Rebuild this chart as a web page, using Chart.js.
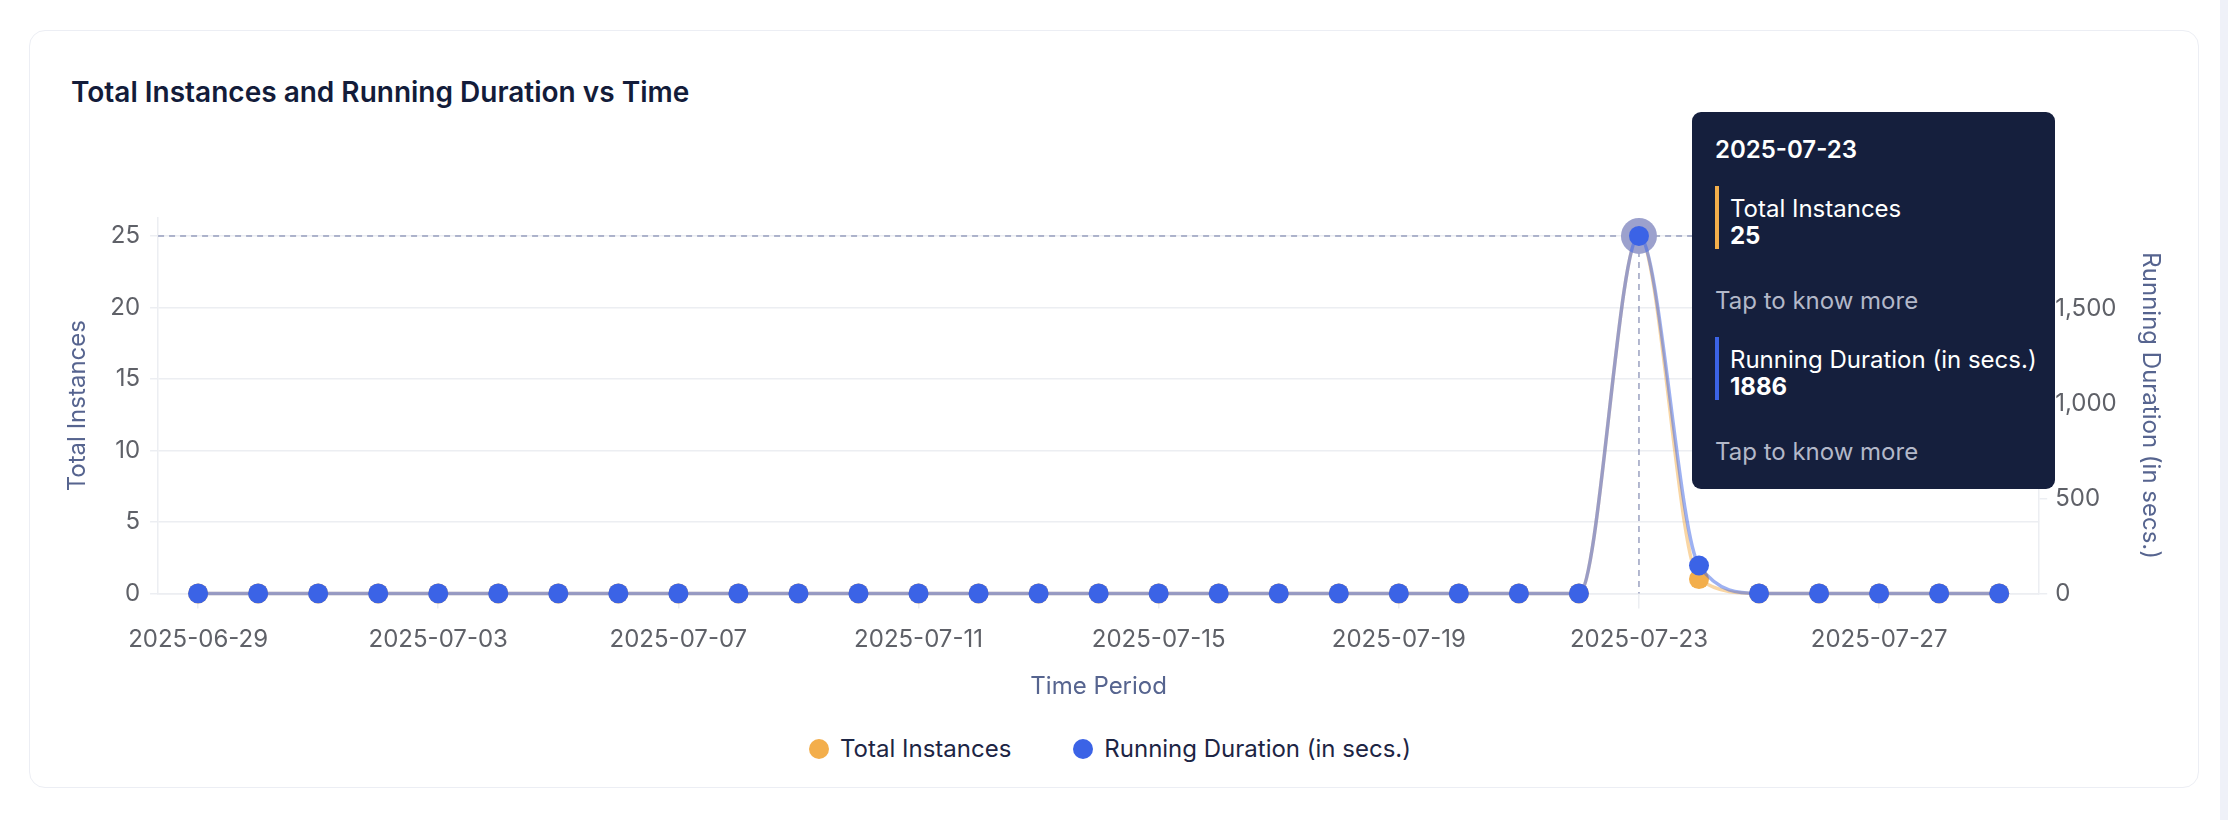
<!DOCTYPE html>
<html>
<head>
<meta charset="utf-8">
<script src="https://cdn.jsdelivr.net/npm/chart.js@4.4.1/dist/chart.umd.min.js"></script>
<style>
  html, body { margin: 0; padding: 0; background: #fff; width: 2228px; height: 820px; overflow: hidden; font-family: Inter, "Noto Sans", sans-serif; }
  .card { position: absolute; left: 29px; top: 30px; width: 2170px; height: 758px; box-sizing: border-box; border: 1.5px solid #eceef4; border-radius: 16px; }
  .side { position: absolute; left: 2220px; top: 0; width: 8px; height: 820px; background: #eff1f8; }
  h2 { position: absolute; left: 71px; top: 76px; margin: 0; font-size: 28px; line-height: 32px; font-weight: 600; color: #131c3a; }
  .chart-box { position: absolute; left: 40px; top: 150px; width: 2150px; height: 560px; }
  #legend { position: absolute; left: 35px; top: 733px; width: 2150px; display: flex; justify-content: center; align-items: center; }
  .lg-item { display: flex; align-items: center; margin: 0 31px; font-size: 24px; line-height: 32px; color: #1d2544; }
  .lg-dot { width: 20px; height: 20px; border-radius: 50%; margin-right: 11px; }
  #chart-tooltip { position: absolute; background: #151f3d; border-radius: 9px; padding: 24px 18px 23px 23px; color: #fff; pointer-events: none; opacity: 0; white-space: nowrap; }
  .tt-title { font-size: 24px; line-height: 28px; font-weight: 600; }
  .tt-item { border-left: 4px solid; padding: 9px 0 0 11px; margin-top: 22px; height: 54px; }
  .tt-item div { font-size: 24px; line-height: 27px; }
  .tt-val { font-weight: 700; }
  .tt-more { color: #b3b8c9; font-size: 24px; line-height: 28px; margin-top: 38px; }
</style>
</head>
<body>
<div class="card"></div>
<div class="side"></div>
<h2>Total Instances and Running Duration vs Time</h2>
<div class="chart-box"><canvas id="chart"></canvas></div>
<div id="legend"></div>
<div id="chart-tooltip"></div>
<script>
const dates = [
    "2025-06-29", "2025-06-30", "2025-07-01", "2025-07-02", "2025-07-03", "2025-07-04",
    "2025-07-05", "2025-07-06", "2025-07-07", "2025-07-08", "2025-07-09", "2025-07-10",
    "2025-07-11", "2025-07-12", "2025-07-13", "2025-07-14", "2025-07-15", "2025-07-16",
    "2025-07-17", "2025-07-18", "2025-07-19", "2025-07-20", "2025-07-21", "2025-07-22",
    "2025-07-23", "2025-07-24", "2025-07-25", "2025-07-26", "2025-07-27", "2025-07-28",
    "2025-07-29",
];

const totalInstances = [
    0, 0, 0, 0, 0, 0, 0, 0, 0, 0, 0, 0, 0, 0, 0, 0, 0, 0, 0, 0, 0, 0, 0, 0,
    25, 1, 0, 0, 0, 0, 0,
];

const runningDuration = [
    0, 0, 0, 0, 0, 0, 0, 0, 0, 0, 0, 0, 0, 0, 0, 0, 0, 0, 0, 0, 0, 0, 0, 0,
    1886, 147, 0, 0, 0, 0, 0,
];

const xTickIndexes = [0, 4, 8, 12, 16, 20, 24, 28];
const instanceTicks = [0, 5, 10, 15, 20, 25];
const durationTicks = [0, 500, 1000, 1500];
const hoveredDate = "2025-07-23";

const gridColor = "#eceef2";
const titleColor = "#56648f";
const tickColor = "#5f6168";

Chart.defaults.font.family = "Inter, 'Noto Sans', sans-serif";
Chart.defaults.font.size = 24;
Chart.defaults.color = tickColor;

const toPoints = (values) => values.map((v, i) => ({ x: i, y: v }));

// 5% headroom above the highest value, like grace but without rounding the top
const addHeadroom = (scale) => {
    scale.max = scale.max + (scale.max - scale.min) * 0.05;
};

const crosshair = {
    id: "crosshair",
    beforeDatasetsDraw(chart) {
        const active = chart.getActiveElements();
        if (!active.length) return;
        const { x, y } = active[0].element;
        const { ctx, chartArea } = chart;
        ctx.save();
        ctx.setLineDash([6, 5]);
        ctx.lineWidth = 1.5;
        ctx.strokeStyle = "rgba(135,143,180,0.85)";
        ctx.beginPath();
        ctx.moveTo(chartArea.left, y);
        ctx.lineTo(chartArea.right, y);
        ctx.moveTo(x, chartArea.top);
        ctx.lineTo(x, chartArea.bottom);
        ctx.stroke();
        ctx.restore();
    },
};

const externalTooltip = ({ chart, tooltip }) => {
    const el = document.getElementById("chart-tooltip");
    if (tooltip.opacity === 0 || !tooltip.dataPoints) {
        el.style.opacity = 0;
        return;
    }
    const idx = tooltip.dataPoints[0].dataIndex;
    let html = `<div class="tt-title">${dates[idx]}</div>`;
    tooltip.dataPoints.forEach((dp) => {
        html += `<div class="tt-item" style="border-color:${dp.dataset.pointBackgroundColor}">` +
            `<div>${dp.dataset.label}</div><div class="tt-val">${dp.parsed.y}</div></div>` +
            `<div class="tt-more">Tap to know more</div>`;
    });
    el.innerHTML = html;
    const rect = chart.canvas.getBoundingClientRect();
    el.style.left = rect.left + tooltip.caretX + 53 + "px";
    el.style.top = rect.top + tooltip.caretY - 124 + "px";
    el.style.opacity = 1;
};

const chart = new Chart(document.getElementById("chart"), {
    type: "line",
    plugins: [crosshair],
    data: {
        datasets: [
            {
                label: "Total Instances",
                data: toPoints(totalInstances),
                yAxisID: "y",
                order: 2,
                borderColor: "rgba(244,174,74,0.5)",
                backgroundColor: "#f3ae4b",
                pointBackgroundColor: "#f3ae4b",
                pointBorderWidth: 0,
                pointRadius: 10,
                pointHoverRadius: 18,
                pointHoverBackgroundColor: "#9ca1cd",
                pointHoverBorderWidth: 0,
            },
            {
                label: "Running Duration (in secs.)",
                data: toPoints(runningDuration),
                yAxisID: "y1",
                order: 1,
                borderColor: "rgba(59,99,230,0.5)",
                backgroundColor: "#3b63e6",
                pointBackgroundColor: "#3b63e6",
                pointBorderWidth: 0,
                pointRadius: 10,
                pointHoverRadius: 10,
                pointHoverBackgroundColor: "#3b63e6",
                pointHoverBorderWidth: 0,
            },
        ],
    },
    options: {
        responsive: true,
        maintainAspectRatio: false,
        animation: false,
        events: [],
        layout: { padding: { top: 68 } },
        elements: {
            line: { borderWidth: 3.5, cubicInterpolationMode: "monotone", fill: false },
        },
        interaction: { mode: "index", intersect: false },
        plugins: {
            legend: { display: false },
            tooltip: { enabled: false, external: externalTooltip },
        },
        scales: {
            x: {
                type: "linear",
                min: -2 / 3,
                max: dates.length - 1 + 2 / 3,
                afterBuildTicks: (scale) => {
                    scale.ticks = xTickIndexes.map((v) => ({ value: v }));
                },
                ticks: {
                    autoSkip: false,
                    maxRotation: 0,
                    padding: 17,
                    color: tickColor,
                    callback: (value) => dates[value],
                },
                grid: { drawOnChartArea: false, tickLength: 15, color: gridColor, lineWidth: 1.5 },
                border: { color: gridColor, width: 1.5 },
                title: { display: true, text: "Time Period", color: titleColor, padding: { top: 1, bottom: 9 } },
            },
            y: {
                position: "left",
                beginAtZero: true,
                bounds: "data",
                afterDataLimits: addHeadroom,
                afterBuildTicks: (scale) => {
                    scale.ticks = instanceTicks.map((v) => ({ value: v }));
                },
                ticks: { padding: 10, color: tickColor },
                grid: { color: gridColor, tickLength: 8, lineWidth: 1.5 },
                border: { color: gridColor, width: 1.5 },
                title: { display: true, text: "Total Instances", color: titleColor, padding: { top: 23.5, bottom: 8 } },
            },
            y1: {
                position: "right",
                beginAtZero: true,
                bounds: "data",
                afterDataLimits: addHeadroom,
                afterBuildTicks: (scale) => {
                    scale.ticks = durationTicks.map((v) => ({ value: v }));
                },
                ticks: { padding: 8, color: tickColor },
                grid: { drawOnChartArea: false, color: gridColor, tickLength: 8, lineWidth: 1.5 },
                border: { color: gridColor, width: 1.5 },
                title: { display: true, text: "Running Duration (in secs.)", color: titleColor, padding: { top: 25, bottom: 11.5 } },
            },
        },
    },
});

// legend drawn as html, from the chart's datasets
document.getElementById("legend").innerHTML = chart.data.datasets
    .map((ds) => `<div class="lg-item"><span class="lg-dot" style="background:${ds.pointBackgroundColor}"></span>${ds.label}</div>`)
    .join("");

const peak = dates.indexOf(hoveredDate);
const active = chart.data.datasets.map((_, i) => ({ datasetIndex: i, index: peak }));
chart.setActiveElements(active);
chart.tooltip.setActiveElements(active, { x: 0, y: 0 });
chart.update();
</script>
</body>
</html>
